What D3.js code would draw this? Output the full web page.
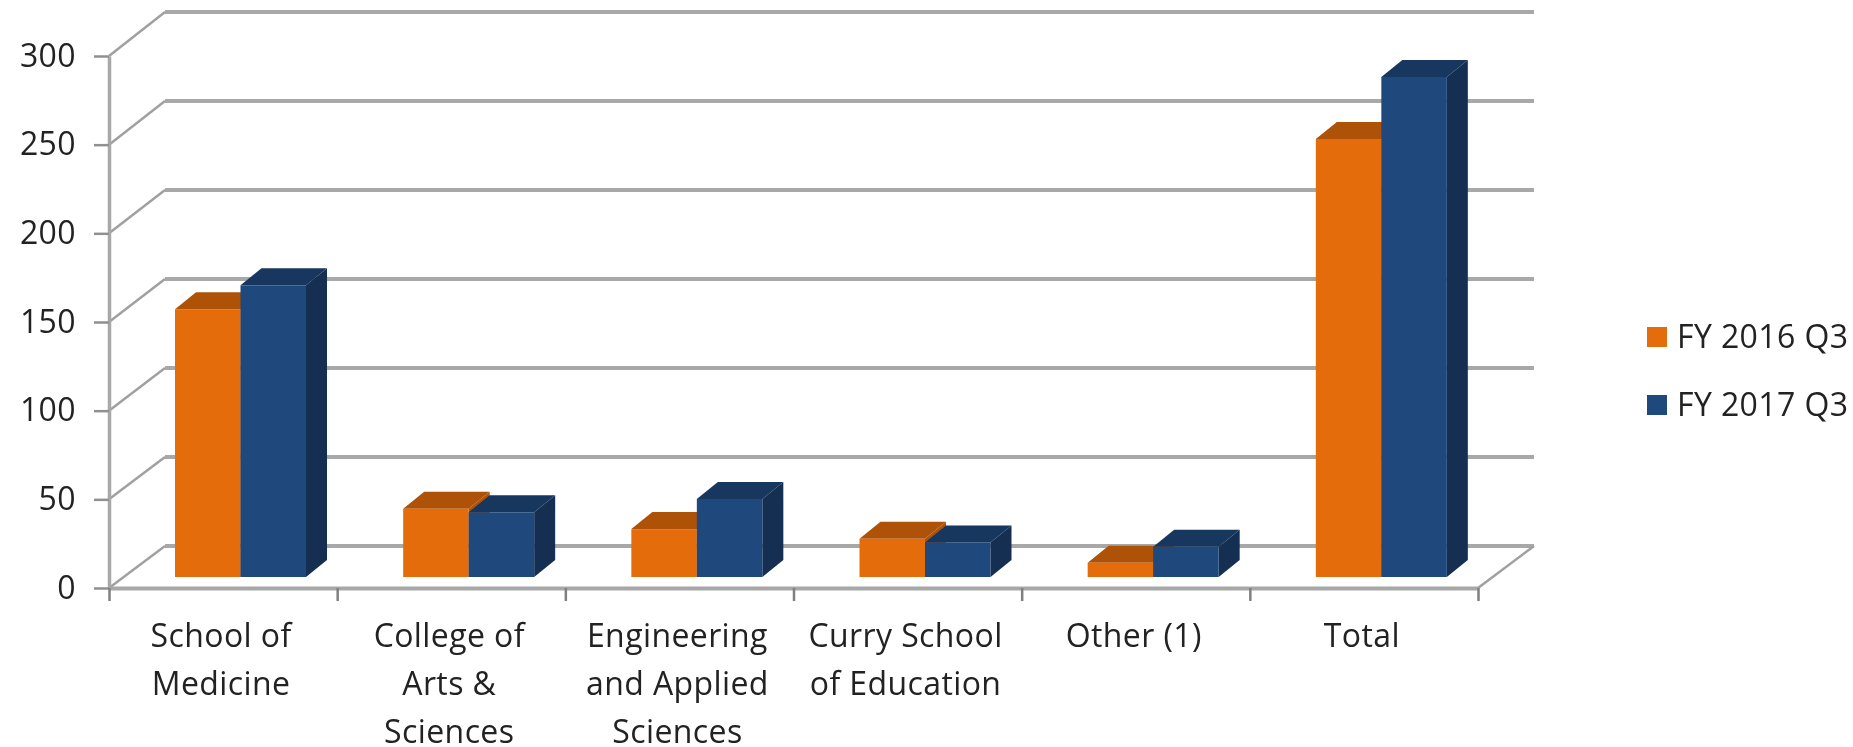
<!DOCTYPE html>
<html lang="en">
<head>
  <meta charset="UTF-8">
  <title>FY Q3 by school</title>
  <script src="https://d3js.org/d3.v7.min.js"></script>
  <style>
    html, body { margin: 0; background: #fff; }
    svg { display: block; filter: blur(0.7px); }
    text { font-family: "Open Sans", sans-serif; font-size: 32px; letter-spacing: 0.4px; fill: #222; }
  </style>
</head>
<body>
  <svg id="chart" width="1853" height="747"></svg>

  <script>
    const categories = [
      ["School of", "Medicine"],
      ["College of", "Arts &", "Sciences"],
      ["Engineering", "and Applied", "Sciences"],
      ["Curry School", "of Education"],
      ["Other (1)"],
      ["Total"]
    ];
    const seriesNames = ["FY 2016 Q3", "FY 2017 Q3"];
    const fy2016 = [151, 38.5, 27, 21.5, 8, 247];
    const fy2017 = [164.5, 36.5, 44, 19.5, 17, 282];
    const yTicks = [0, 50, 100, 150, 200, 250, 300];

    const frontColors = ["#e46c0a", "#1f497d"];
    const topColors = ["#ae5208", "#17375e"];
    const sideColors = ["#ae5208", "#152f52"];

    const svg = d3.select("#chart");

    const x = d3.scaleBand().domain(d3.range(categories.length)).range([109, 1478]);
    const xEdges = d3.scaleLinear().domain([0, categories.length]).range([109, 1478]);
    const xInner = d3.scaleBand().domain([0, 1]).range([66, 197]);

    // front of the box, back wall, and plane the bars stand on
    const yFront = d3.scaleLinear().domain([0, 300]).range([588, 56]);
    const yBack = d3.scaleLinear().domain([0, 300]).range([546, 12]);
    const yBar = d3.scaleLinear().domain([0, 300]).range([577, 45]);

    const wallDx = 56;
    const barDx = 21;
    const barDy = -17;

    // back wall gridlines
    svg.append("g").selectAll("line")
      .data(yTicks)
      .join("line")
      .attr("x1", 109 + wallDx)
      .attr("x2", 1478 + wallDx)
      .attr("y1", d => yBack(d))
      .attr("y2", d => yBack(d))
      .attr("stroke", "#a8a8a8")
      .attr("stroke-width", 4);

    // side wall diagonals
    svg.append("g").selectAll("line")
      .data(yTicks)
      .join("line")
      .attr("x1", 109)
      .attr("x2", 109 + wallDx)
      .attr("y1", d => yFront(d))
      .attr("y2", d => yBack(d))
      .attr("stroke", "#a0a0a0")
      .attr("stroke-width", 2.5);

    // floor right edge
    svg.append("line")
      .attr("x1", 1478)
      .attr("x2", 1478 + wallDx)
      .attr("y1", yFront(0))
      .attr("y2", yBack(0))
      .attr("stroke", "#a0a0a0")
      .attr("stroke-width", 2.5);

    // axes
    const yAxis = svg.append("g")
      .attr("transform", "translate(109,0)")
      .call(d3.axisLeft(yFront).tickValues(yTicks).tickSize(15).tickSizeOuter(0).tickPadding(18));
    yAxis.select(".domain").attr("stroke", "#a8a8a8").attr("stroke-width", 3.5);
    yAxis.selectAll(".tick line").attr("stroke", "#909090").attr("stroke-width", 2.5);
    yAxis.selectAll("text").style("font-size", "32px").style("font-family", "'Open Sans', sans-serif");

    const xAxis = svg.append("g")
      .attr("transform", "translate(0," + yFront(0) + ")")
      .call(d3.axisBottom(xEdges).ticks(categories.length).tickSize(13).tickSizeOuter(0).tickFormat(""));
    xAxis.select(".domain").attr("stroke", "#a8a8a8").attr("stroke-width", 4);
    xAxis.selectAll(".tick line").attr("stroke", "#808080").attr("stroke-width", 2.5);

    // bars, left to right so the taller neighbour covers the side face
    const values = [fy2016, fy2017];
    categories.forEach((c, i) => {
      values.forEach((vals, s) => {
        const x0 = x(i) + xInner(s);
        const x1 = x0 + xInner.bandwidth();
        const top = yBar(vals[i]);
        const base = yBar(0);
        const g = svg.append("g");

        g.append("polygon")
          .attr("points", [[x0, top], [x1, top], [x1 + barDx, top + barDy], [x0 + barDx, top + barDy]].join(" "))
          .attr("fill", topColors[s]);
        g.append("polygon")
          .attr("points", [[x1, top], [x1 + barDx, top + barDy], [x1 + barDx, base + barDy], [x1, base]].join(" "))
          .attr("fill", sideColors[s]);
        g.append("rect")
          .attr("x", x0)
          .attr("y", top)
          .attr("width", xInner.bandwidth())
          .attr("height", base - top)
          .attr("fill", frontColors[s]);
      });
    });

    // category labels
    const labels = svg.append("g").selectAll("text")
      .data(categories)
      .join("text")
      .attr("text-anchor", "middle")
      .attr("y", 647);
    labels.selectAll("tspan")
      .data((d, i) => d.map(line => ({ line, i })))
      .join("tspan")
      .attr("x", d => x(d.i) + x.bandwidth() / 2 - 2)
      .attr("dy", (d, j) => j ? 48 : 0)
      .text(d => d.line);

    // legend
    const legendY = d3.scalePoint().domain(seriesNames).range([337, 405]);
    const legend = svg.append("g").selectAll("g")
      .data(seriesNames)
      .join("g")
      .attr("transform", d => "translate(1647," + legendY(d) + ")");
    legend.append("rect")
      .attr("y", -10)
      .attr("width", 20)
      .attr("height", 20)
      .attr("fill", (d, i) => frontColors[i]);
    legend.append("text")
      .attr("x", 30)
      .attr("dy", "0.35em")
      .text(d => d);
  </script>
</body>
</html>
